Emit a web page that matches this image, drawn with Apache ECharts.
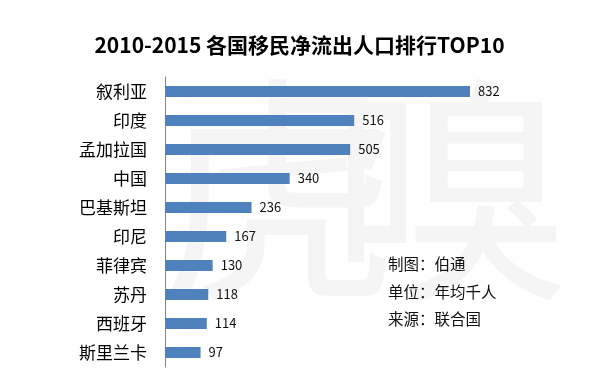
<!DOCTYPE html>
<html><head><meta charset="utf-8">
<script src="https://cdn.jsdelivr.net/npm/echarts@6/dist/echarts.min.js"></script>
<style>html,body{margin:0;padding:0;background:#fff}#c{width:599px;height:373px}</style>
</head><body><div id="c"></div>
<script>
const categories = ['叙利亚','印度','孟加拉国','中国','巴基斯坦','印尼','菲律宾','苏丹','西班牙','斯里兰卡'];
const values = [832,516,505,340,236,167,130,118,114,97];
const notes = ['制图：伯通','单位：年均千人','来源：联合国'];
const titleText = '2010-2015 各国移民净流出人口排行TOP10';
const FONT = '"Noto Sans CJK SC","Microsoft YaHei",sans-serif';

const chart = echarts.init(document.getElementById('c'));
chart.setOption({
  animation:false,
  backgroundColor:'#fff',
  title:{text:titleText,left:'center',top:30,textStyle:{fontFamily:FONT,fontSize:21,fontWeight:'bold',color:'#000'}},
  graphic:[
    {type:'text',left:160,top:70,z:-10,style:{text:'虎',font:'240px '+FONT,fill:'#f5f5f5'}},
    {type:'text',left:330,top:70,z:-10,style:{text:'嗅',font:'240px '+FONT,fill:'#f5f5f5'}},
    {type:'text',left:388,top:256,style:{text:notes[0],font:'15.5px '+FONT,fill:'#111'}},
    {type:'text',left:388,top:284,style:{text:notes[1],font:'15.5px '+FONT,fill:'#111'}},
    {type:'text',left:388,top:311,style:{text:notes[2],font:'15.5px '+FONT,fill:'#111'}}
  ],
  grid:{left:165,top:77,height:290,width:330},
  xAxis:{type:'value',min:0,max:900,show:false},
  yAxis:{type:'category',data:categories,inverse:true,
    axisLine:{show:true,lineStyle:{color:'#888',width:1}},
    axisTick:{show:false},
    axisLabel:{fontFamily:FONT,fontSize:17,color:'#000',margin:18}},
  series:[{type:'bar',data:values,barWidth:11,
    itemStyle:{color:'#4F81BD'},
    label:{show:true,position:'right',distance:8,fontFamily:FONT,fontSize:13,color:'#111'}}]
});
</script></body></html>
